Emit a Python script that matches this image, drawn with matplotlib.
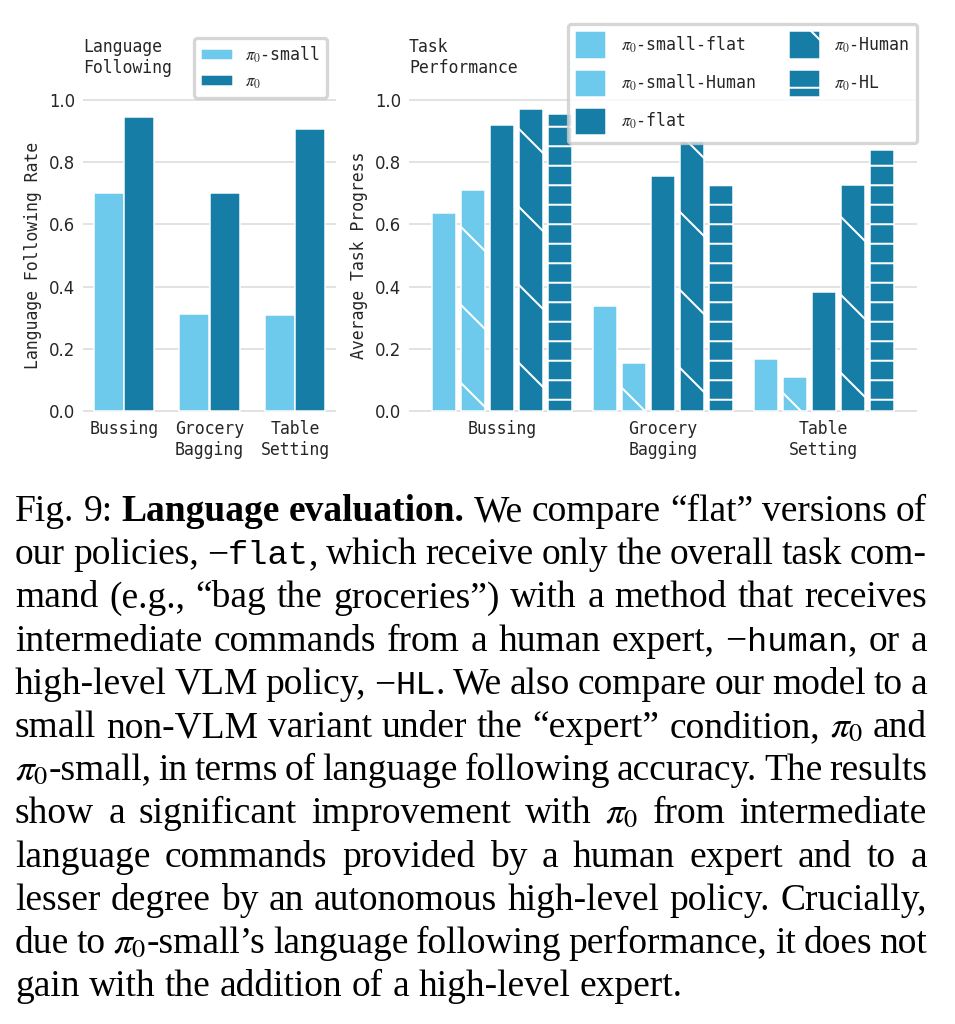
import re
import numpy as np
import matplotlib
matplotlib.use("Agg")
import matplotlib.pyplot as plt

DPI = 234          # hatch spacing scales with dpi, 234 gives the sparse hatch of the original
W, H = 956, 1024


def pt(px):
    # pixel size -> points at this dpi
    return px * 72 / DPI


tasks = ["Bussing", "Grocery\nBagging", "Table\nSetting"]

# left panel: language following rate
lang_labels = [r"$\pi_0$-small", r"$\pi_0$"]
lang_small = [0.701, 0.312, 0.308]
lang_pi0 = [0.944, 0.701, 0.905]

# right panel: average task progress
prog_labels = [r"$\pi_0$-small-flat", r"$\pi_0$-small-Human", r"$\pi_0$-flat",
               r"$\pi_0$-Human", r"$\pi_0$-HL"]
prog_small_flat = [0.638, 0.339, 0.166]
prog_small_human = [0.712, 0.153, 0.109]
prog_flat = [0.921, 0.755, 0.383]
prog_human = [0.970, 0.867, 0.726]
prog_hl = [0.954, 0.725, 0.838]

caption = [
    "Fig. 9: **Language** **evaluation.** We compare “flat” versions of",
    "our policies, −`flat`, which receive only the overall task com-",
    "mand (e.g., “bag the groceries”) with a method that receives",
    "intermediate commands from a human expert, −`human`, or a",
    "high-level VLM policy, −`HL`. We also compare our model to a",
    "small non-VLM variant under the “expert” condition, $\\pi_0$ and",
    "$\\pi_0$-small, in terms of language following accuracy. The results",
    "show a significant improvement with $\\pi_0$ from intermediate",
    "language commands provided by a human expert and to a",
    "lesser degree by an autonomous high-level policy. Crucially,",
    "due to $\\pi_0$-small’s language following performance, it does not",
    "gain with the addition of a high-level expert.",
]

LIGHT = "#6dcaec"
DARK = "#167ea6"
TXT = "#262626"
FS = pt(16.6)

plt.rcParams["font.family"] = "DejaVu Sans Mono"
plt.rcParams["mathtext.fontset"] = "stix"
plt.rcParams["hatch.linewidth"] = pt(2)

fig = plt.figure(figsize=(W / DPI, H / DPI), dpi=DPI)

ax1 = fig.add_axes([83 / W, 1 - 412 / H, 253 / W, 313 / H])
ax2 = fig.add_axes([409 / W, 1 - 412 / H, 508 / W, 313 / H])


def style(ax, ylabel, title, xlim):
    ax.set_xlim(*xlim)
    ax.set_ylim(-0.003, 1.003)
    for s in ax.spines.values():
        s.set_visible(False)
    ax.grid(axis="y", color="#dcdcdc", linewidth=pt(1.6))
    ax.set_axisbelow(True)
    ax.tick_params(length=0, pad=pt(8), labelsize=FS, colors=TXT)
    yt = np.arange(0, 1.01, 0.2)
    ax.set_yticks(yt, labels=[f"{v:.1f}" for v in yt], fontfamily="DejaVu Sans")
    ax.set_xticks(range(len(tasks)), labels=tasks)
    ax.set_ylabel(ylabel, fontsize=FS, color=TXT, labelpad=pt(7))
    ax.set_title(title, loc="left", fontsize=FS, color=TXT, pad=pt(26), linespacing=1.2)


x = np.arange(len(tasks))

# left panel
w1 = 0.35
ax1.bar(x - 0.1775, lang_small, w1, color=LIGHT, edgecolor="white", linewidth=pt(1.5), label=lang_labels[0])
ax1.bar(x + 0.1775, lang_pi0, w1, color=DARK, edgecolor="white", linewidth=pt(1.5), label=lang_labels[1])
style(ax1, "Language Following Rate", "Language\nFollowing", (-0.48, 2.48))
leg1 = ax1.legend(loc="upper right", bbox_to_anchor=((327 - 83) / 253, (412 - 38) / 313),
                  borderaxespad=0, fontsize=FS, handlelength=1.95, handleheight=0.65,
                  handletextpad=0.75, labelspacing=0.45, borderpad=0.4)
for t in leg1.get_texts():
    t.set_color(TXT)

# right panel
series = [prog_small_flat, prog_small_human, prog_flat, prog_human, prog_hl]
colors = [LIGHT, LIGHT, DARK, DARK, DARK]
hatches = [None, "\\", None, "\\", "--"]
w2 = 0.15
for i, vals in enumerate(series):
    ax2.bar(x + (i - 2) * 0.18, vals, w2, color=colors[i], edgecolor="white",
            linewidth=pt(1.5), hatch=hatches[i], label=prog_labels[i])
style(ax2, "Average Task Progress", "Task\nPerformance", (-0.58, 2.58))
leg2 = ax2.legend(loc="upper right", bbox_to_anchor=(1.0, (412 - 24) / 313), ncol=2,
                  borderaxespad=0, fontsize=FS, handlelength=1.85, handleheight=2.2,
                  handletextpad=0.9, labelspacing=0.62, columnspacing=2.0, borderpad=0.45)
for t in leg2.get_texts():
    t.set_color(TXT)

# caption, justified word by word
CAP_FS = pt(37.5)
LEFT, RIGHT = 15, 927
BASE, PITCH = 521, 43.2
STYLE = {
    "r": dict(family="Liberation Serif", size=CAP_FS),
    "b": dict(family="Liberation Serif", weight="bold", size=CAP_FS),
    "t": dict(family="Liberation Mono", size=CAP_FS * 0.9),
    "m": dict(family="Liberation Serif", math_fontfamily="stix", size=CAP_FS),
}
TOKEN = re.compile(r"(\*\*.+?\*\*|`.+?`|\$.+?\$)")


def pieces(word):
    out = []
    for tok in TOKEN.split(word):
        if not tok:
            continue
        if tok.startswith("**"):
            out.append((tok[2:-2], "b"))
        elif tok.startswith("`"):
            out.append((tok[1:-1], "t"))
        elif tok.startswith("$"):
            out.append((tok, "m"))
        else:
            out.append((tok, "r"))
    return out


renderer = fig.canvas.get_renderer()
for i, line in enumerate(caption):
    y = 1 - (BASE + i * PITCH) / H
    words = []
    widths = []
    for wd in line.split(" "):
        parts = []
        for s, st in pieces(wd):
            t = fig.text(0, y, s, va="baseline", ha="left", color="black", **STYLE[st])
            parts.append((t, t.get_window_extent(renderer).width))
        words.append(parts)
        widths.append(sum(p[1] for p in parts))
    if i == len(caption) - 1:
        gap = 0.25 * 37.5
    else:
        gap = (RIGHT - LEFT - sum(widths)) / (len(words) - 1)
    xpos = LEFT
    for parts in words:
        for t, wpx in parts:
            t.set_x(xpos / W)
            xpos += wpx
        xpos += gap

fig.savefig("out.png", dpi=DPI)
